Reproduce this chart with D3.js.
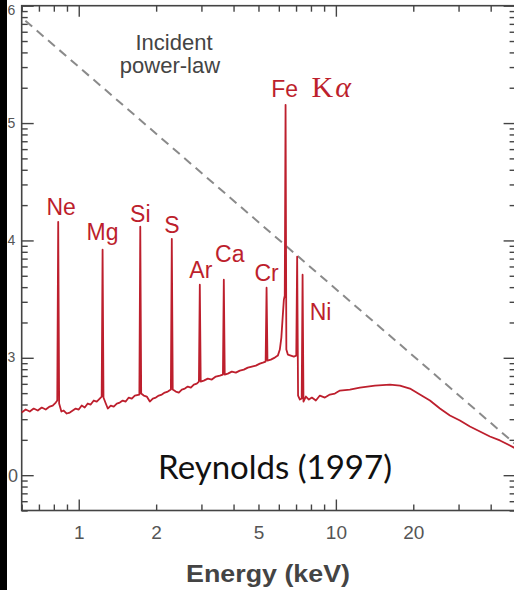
<!DOCTYPE html>
<html>
<head>
<meta charset="utf-8">
<script src="https://cdn.jsdelivr.net/npm/d3@7"></script>
<style>
  body { margin: 0; background: #fff; }
  svg { display: block; }
</style>
</head>
<body>
<svg id="chart" width="514" height="590"></svg>
<script>
// Reflected X-ray spectrum (counts vs photon energy), with the incident power law.
const energy = [
  0.600, 0.622, 0.645, 0.668, 0.693, 0.718, 0.744, 0.771, 0.792, 0.814,
  0.825, 0.832, 0.839, 0.856, 0.874, 0.898, 0.923, 0.948, 0.973, 1.000,
  1.027, 1.055, 1.084, 1.113, 1.144, 1.175, 1.207, 1.228, 1.238, 1.248,
  1.274, 1.297, 1.332, 1.368, 1.406, 1.444, 1.483, 1.523, 1.565, 1.608,
  1.652, 1.721, 1.735, 1.749, 1.790, 1.839, 1.890, 1.941, 1.994, 2.048,
  2.104, 2.161, 2.220, 2.282, 2.301, 2.320, 2.385, 2.450, 2.517, 2.586,
  2.656, 2.729, 2.803, 2.878, 2.933, 2.957, 2.981, 3.064, 3.177, 3.292,
  3.413, 3.538, 3.637, 3.666, 3.696, 3.801, 3.938, 4.083, 4.232, 4.385,
  4.546, 4.712, 4.884, 5.062, 5.200, 5.331, 5.376, 5.419, 5.586, 5.789,
  5.947, 6.054, 6.137, 6.209, 6.277, 6.327, 6.373, 6.418, 6.504, 6.682,
  6.864, 7.014, 7.070, 7.128, 7.245, 7.363, 7.422, 7.482, 7.645, 7.853,
  8.066, 8.359, 8.665, 9.062, 9.477, 9.911, 10.37, 11.34, 12.40, 14.19,
  16.23, 17.75, 19.41, 21.22, 23.22, 25.39, 27.77, 30.37, 33.21, 36.33,
  39.73, 43.45, 47.53, 50.00
];
const counts = [
  341.8, 362.5, 348.5, 369.6, 355.5, 376.9, 362.5, 384.4, 392.0, 415.7,
  432.4, 14420, 407.7, 348.5, 355.5, 335.2, 341.8, 355.5, 369.6, 362.5,
  392.0, 376.9, 407.7, 399.7, 432.4, 423.9, 449.6, 467.6, 8340, 458.5,
  407.7, 369.6, 392.0, 384.4, 407.7, 415.7, 432.4, 423.9, 458.5, 449.6,
  476.8, 486.3, 13090, 495.9, 476.8, 467.6, 423.9, 449.6, 458.5, 476.8,
  486.3, 505.7, 515.7, 536.3, 10330, 536.3, 515.7, 505.7, 536.3, 546.9,
  568.7, 557.7, 591.4, 603.1, 627.2, 4200, 627.2, 639.6, 665.3, 652.4,
  691.9, 705.6, 719.5, 4630, 719.5, 733.7, 763.1, 748.3, 778.2, 793.6,
  825.3, 841.6, 858.2, 892.5, 910.2, 928.2, 3960, 946.6, 965.3, 1004,
  1044, 1175, 1486, 2198, 3128, 3383, 142900, 1175, 1065, 1044,
  1024, 1044, 7260, 476.8, 440.9, 449.6, 5100, 423.9, 467.6, 440.9,
  458.5, 432.4, 476.8, 458.5, 486.3, 495.9, 525.9, 536.3, 557.7, 580.0,
  591.4, 580.0, 546.9, 486.3, 432.4, 369.6, 322.3, 292.2, 259.7, 235.5,
  213.6, 197.6, 179.1, 168.9
];

// Emission line identifications
const lineNames  = ["Ne", "Mg", "Si", "S", "Ar", "Ca", "Cr", "Ni"];
const lineEnergy = [0.832, 1.238, 1.735, 2.301, 2.957, 3.666, 5.376, 7.422];
const linePeak   = [14420, 8340, 13090, 10330, 4200, 4630, 3960, 5100];
const feEnergy = 6.373;
const fePeak = 142900;

// Incident power law, drawn between its two end points
const incidentEnergy = [0.62, 50];
const incidentCounts = [745000, 183];

const xMajor = [1, 10];
const xLabeled = [1, 2, 5, 10, 20];
const yMajor = [1e2, 1e3, 1e4, 1e5, 1e6];
// only the trailing characters of the y labels show past the dark left edge
const yLabelTail = ["0", "3", "4", "5", "6"];

// ---- layout ----
const W = 514, H = 590;
const plotLeft = 21.7, plotRight = 515.6, plotTop = 5.7, plotBottom = 510.5;
const red = "#bd1f2d";
const axisColor = "#444";

const svg = d3.select("#chart");

const x = d3.scaleLog().domain([0.6, 50]).range([plotLeft, plotRight]);
const y = d3.scaleLog().domain([50, 1e6]).range([plotBottom, plotTop]);

// minor tick values
const xMinor = [];
[0.1, 1, 10].forEach(d => { for (let k = 2; k <= 9; k++) { const v = +(d * k).toPrecision(3); if (v >= 0.6 && v <= 50) xMinor.push(v); } });
const yMinor = [];
[10, 100, 1000, 1e4, 1e5].forEach(d => { for (let k = 2; k <= 9; k++) { const v = d * k; if (v >= 50 && v <= 1e6) yMinor.push(v); } });

const tickStyle = g => {
  g.select(".domain").remove();
  g.selectAll(".tick line").attr("stroke", axisColor).attr("stroke-width", 1.4);
};

// bottom axis
svg.append("g").attr("transform", `translate(0,${plotBottom})`)
  .call(d3.axisBottom(x).tickValues(xMinor).tickSize(-6).tickFormat("")).call(tickStyle);
svg.append("g").attr("transform", `translate(0,${plotBottom})`)
  .call(d3.axisBottom(x).tickValues(xMajor).tickSize(-11).tickFormat("")).call(tickStyle);
const bl = svg.append("g").attr("transform", `translate(0,${plotBottom})`)
  .call(d3.axisBottom(x).tickValues(xLabeled).tickSize(0).tickPadding(10).tickFormat(d3.format("d")));
bl.select(".domain").remove();
bl.selectAll("text").attr("font-family", "Liberation Sans, Arial, sans-serif")
  .attr("font-size", 19).attr("fill", "#555").attr("dy", "0.95em");

// top axis (ticks only)
svg.append("g").attr("transform", `translate(0,${plotTop})`)
  .call(d3.axisTop(x).tickValues(xMinor).tickSize(-6).tickFormat("")).call(tickStyle);
svg.append("g").attr("transform", `translate(0,${plotTop})`)
  .call(d3.axisTop(x).tickValues(xMajor).tickSize(-11).tickFormat("")).call(tickStyle);

// left axis
svg.append("g").attr("transform", `translate(${plotLeft},0)`)
  .call(d3.axisLeft(y).tickValues(yMinor).tickSize(-6).tickFormat("")).call(tickStyle);
svg.append("g").attr("transform", `translate(${plotLeft},0)`)
  .call(d3.axisLeft(y).tickValues(yMajor).tickSize(-12).tickFormat("")).call(tickStyle);

// right axis
svg.append("g").attr("transform", `translate(${plotRight},0)`)
  .call(d3.axisRight(y).tickValues(yMinor).tickSize(-6).tickFormat("")).call(tickStyle);
svg.append("g").attr("transform", `translate(${plotRight},0)`)
  .call(d3.axisRight(y).tickValues(yMajor).tickSize(-12).tickFormat("")).call(tickStyle);

// frame
svg.append("rect").attr("x", plotLeft).attr("y", plotTop)
  .attr("width", plotRight - plotLeft).attr("height", plotBottom - plotTop)
  .attr("fill", "none").attr("stroke", axisColor).attr("stroke-width", 1.6);

// y tick label tails
const yl = svg.append("g").attr("font-family", "Liberation Sans, Arial, sans-serif").attr("fill", "#555");
yMajor.forEach((v, i) => {
  const isHundred = v === 100;
  yl.append("text")
    .attr("x", isHundred ? 8 : 7.5)
    .attr("y", isHundred ? y(v) : Math.max(y(v) - 1, 9))
    .attr("dy", isHundred ? "0.36em" : "0.4em")
    .attr("font-size", isHundred ? 18 : 14)
    .text(yLabelTail[i]);
});

// incident power law
svg.append("path")
  .datum(incidentEnergy.map((e, i) => [e, incidentCounts[i]]))
  .attr("d", d3.line().x(d => x(d[0])).y(d => y(d[1])))
  .attr("fill", "none").attr("stroke", "#8a8a8a").attr("stroke-width", 2)
  .attr("stroke-dasharray", "9,6");

// spectrum
svg.append("path")
  .datum(energy.map((e, i) => [e, counts[i]]))
  .attr("d", d3.line().x(d => x(d[0])).y(d => y(d[1])))
  .attr("fill", "none").attr("stroke", red).attr("stroke-width", 1.8)
  .attr("stroke-linejoin", "round");

// line labels
const labelOffset = {
  Ne: [3, -7], Mg: [0, -10], Si: [0, -5], S: [0, -6], Ar: [1, -7],
  Ca: [6, -18], Cr: [0, -7], Ni: [18, 45]
};
const labels = svg.append("g").attr("font-family", "Liberation Sans, Arial, sans-serif")
  .attr("font-size", 23).attr("fill", red).attr("text-anchor", "middle");
lineNames.forEach((n, i) => {
  labels.append("text")
    .attr("x", x(lineEnergy[i]) + labelOffset[n][0])
    .attr("y", y(linePeak[i]) + labelOffset[n][1])
    .text(n);
});
labels.append("text").attr("x", x(feEnergy) - 1).attr("y", y(fePeak) - 8).text("Fe");
const ka = svg.append("text").attr("x", x(feEnergy) + 26).attr("y", y(fePeak) - 8)
  .attr("font-family", "Liberation Serif, DejaVu Serif, serif").attr("font-size", 30)
  .attr("letter-spacing", 2).attr("fill", red);
ka.append("tspan").text("K");
ka.append("tspan").attr("font-style", "italic").text("α");

// annotations
const ann = svg.append("g").attr("font-family", "Liberation Sans, Arial, sans-serif")
  .attr("font-size", 22).attr("fill", "#444").attr("text-anchor", "middle");
ann.append("text").attr("x", 174).attr("y", 50).text("Incident");
ann.append("text").attr("x", 170).attr("y", 73).text("power-law");

svg.append("text").attr("x", 275).attr("y", 479).attr("text-anchor", "middle")
  .attr("font-family", "Lato, 'Open Sans', sans-serif").attr("font-size", 33).attr("fill", "#111")
  .text("Reynolds (1997)");

svg.append("text").attr("x", 268).attr("y", 582).attr("text-anchor", "middle")
  .attr("font-family", "Liberation Sans, Arial, sans-serif").attr("font-weight", "bold")
  .attr("font-size", 23).attr("textLength", 164).attr("lengthAdjust", "spacingAndGlyphs")
  .attr("fill", "#444").text("Energy (keV)");

// dark edge strip on the left
svg.append("rect").attr("x", 0).attr("y", 0).attr("width", 7).attr("height", H).attr("fill", "#000");
</script>
</body>
</html>
